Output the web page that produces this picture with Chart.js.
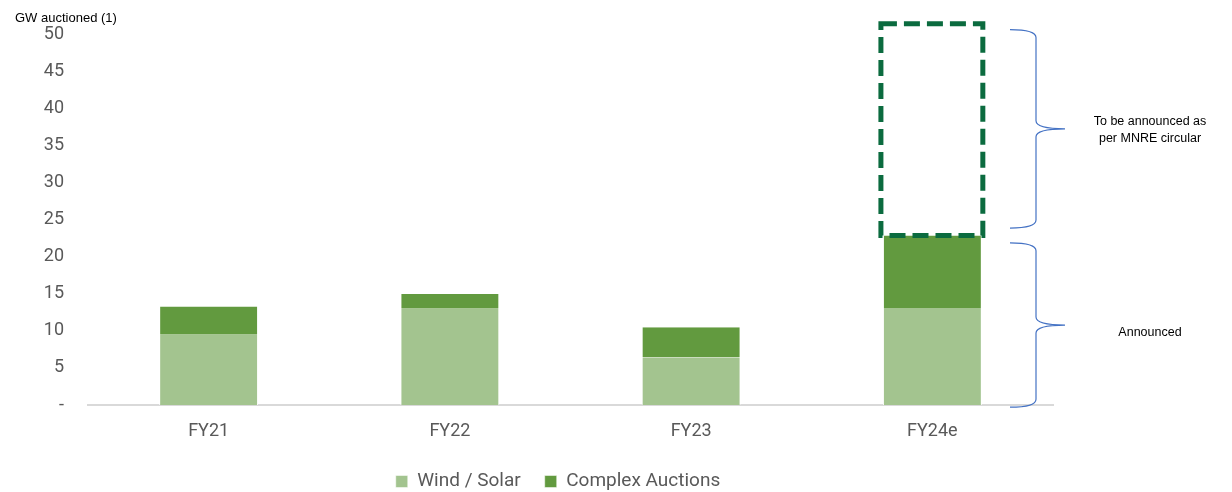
<!DOCTYPE html>
<html>
<head>
<meta charset="utf-8">
<script src="https://cdn.jsdelivr.net/npm/chart.js@4.4.0/dist/chart.umd.min.js"></script>
<style>
  html, body { margin: 0; padding: 0; background: #fff; }
  #wrap { width: 1232px; height: 492px; }
</style>
</head>
<body>
<div id="wrap"><canvas id="auctionChart"></canvas></div>
<script>
// Auction volumes by fiscal year (GW)
const categories = ['FY21', 'FY22', 'FY23', 'FY24e'];
const windSolar = [9.5, 13.0, 6.4, 13.1];
const complexAuctions = [3.8, 2.0, 4.1, 9.8];
const yTicks = [0, 5, 10, 15, 20, 25, 30, 35, 40, 45, 50];

// Pending volume shown as a dashed box on FY24e, and the two braces
const pendingRange = [22.9, 51.5];
const braceRanges = [[23.9, 50.7], [-0.3, 21.9]];
const braceNotes = [['To be announced as', 'per MNRE circular'], ['Announced']];

// Draw dashed box + braces + notes after the bars
const annotationPlugin = {
    id: 'annotations',
    afterLayout(chart) {
        // nudge the legend to the right like the original
        if (chart.legend) {
            chart.legend.left += 24;
            chart.legend.right += 24;
        }
    },
    afterDraw(chart) {
        const ctx = chart.ctx;
        const y = chart.scales.y;
        const area = chart.chartArea;

        // dashed box around pending FY24e volume
        const bar = chart.getDatasetMeta(1).data[3];
        if (bar) {
            const left = bar.x - bar.width / 2 - 2;
            const right = bar.x + bar.width / 2 + 1;
            const top = y.getPixelForValue(pendingRange[1]);
            const bottom = y.getPixelForValue(pendingRange[0]);
            ctx.save();
            ctx.strokeStyle = '#0b6b3f';
            ctx.lineWidth = 5;
            ctx.setLineDash([16, 7]);
            ctx.strokeRect(left, top, right - left, bottom - top);
            ctx.restore();
        }

        // curly braces
        const x0 = area.right - 43;
        const x1 = x0 + 26;
        const x2 = x0 + 55;
        const r = 8;
        ctx.save();
        ctx.strokeStyle = '#4472c4';
        ctx.lineWidth = 1.2;
        braceRanges.forEach((range, i) => {
            const y1 = y.getPixelForValue(range[1]);
            const y2 = y.getPixelForValue(range[0]);
            const ym = (y1 + y2) / 2;
            ctx.beginPath();
            ctx.moveTo(x0, y1);
            ctx.quadraticCurveTo(x1, y1, x1, y1 + r);
            ctx.lineTo(x1, ym - r);
            ctx.quadraticCurveTo(x1, ym, x2, ym);
            ctx.moveTo(x2, ym);
            ctx.quadraticCurveTo(x1, ym, x1, ym + r);
            ctx.lineTo(x1, y2 - r);
            ctx.quadraticCurveTo(x1, y2, x0, y2);
            ctx.stroke();

            // note text
            const lines = braceNotes[i];
            ctx.fillStyle = '#000';
            ctx.font = '12.5px "Liberation Sans", Arial, sans-serif';
            ctx.textBaseline = 'middle';
            ctx.textAlign = 'center';
            const tx = 1150;
            const lh = 17;
            const start = ym - (lines.length - 1) * lh / 2 + (lines.length > 1 ? 1 : 8);
            lines.forEach((t, k) => ctx.fillText(t, tx, start + k * lh));
        });
        ctx.restore();
    }
};

const ctx = document.getElementById('auctionChart');

new Chart(ctx, {
    type: 'bar',
    data: {
        labels: categories,
        datasets: [
            {
                label: 'Wind / Solar',
                data: windSolar,
                backgroundColor: '#a3c48f',
                borderColor: '#ffffff',
                borderWidth: { left: 1, right: 1 },
                barPercentage: 1,
                categoryPercentage: 0.41
            },
            {
                label: 'Complex Auctions',
                data: complexAuctions,
                backgroundColor: '#629a3f',
                borderColor: '#ffffff',
                borderWidth: { left: 1, right: 1 },
                barPercentage: 1,
                categoryPercentage: 0.41
            }
        ]
    },
    options: {
        responsive: true,
        maintainAspectRatio: false,
        animation: false,
        layout: {
            padding: { left: 15, right: 179, top: 0, bottom: -9 }
        },
        plugins: {
            title: {
                display: true,
                text: 'GW auctioned (1)',
                align: 'start',
                color: '#000',
                font: { family: '"Liberation Sans", Arial, sans-serif', size: 13, weight: 'normal' },
                padding: { top: 0, bottom: 9 }
            },
            legend: {
                position: 'bottom',
                labels: {
                    color: '#595959',
                    font: { family: 'Roboto, sans-serif', size: 19 },
                    boxWidth: 12,
                    boxHeight: 12,
                    padding: 24
                }
            },
            tooltip: { enabled: false }
        },
        scales: {
            x: {
                stacked: true,
                afterFit(scale) { scale.height = 43; },
                grid: { display: false, drawTicks: false },
                border: { color: '#d9d9d9', width: 2 },
                ticks: {
                    color: '#595959',
                    font: { family: 'Roboto, sans-serif', size: 18 },
                    padding: 16
                }
            },
            y: {
                stacked: true,
                min: 0,
                max: 50,
                afterFit(scale) { scale.width = 73; },
                afterBuildTicks(scale) {
                    scale.ticks = yTicks.map(v => ({ value: v }));
                },
                grid: { display: false, drawTicks: false },
                border: { display: false },
                ticks: {
                    color: '#595959',
                    font: { family: 'Roboto, sans-serif', size: 18 },
                    padding: 24,
                    callback: v => v === 0 ? '-' : v
                }
            }
        }
    },
    plugins: [annotationPlugin]
});
</script>
</body>
</html>
